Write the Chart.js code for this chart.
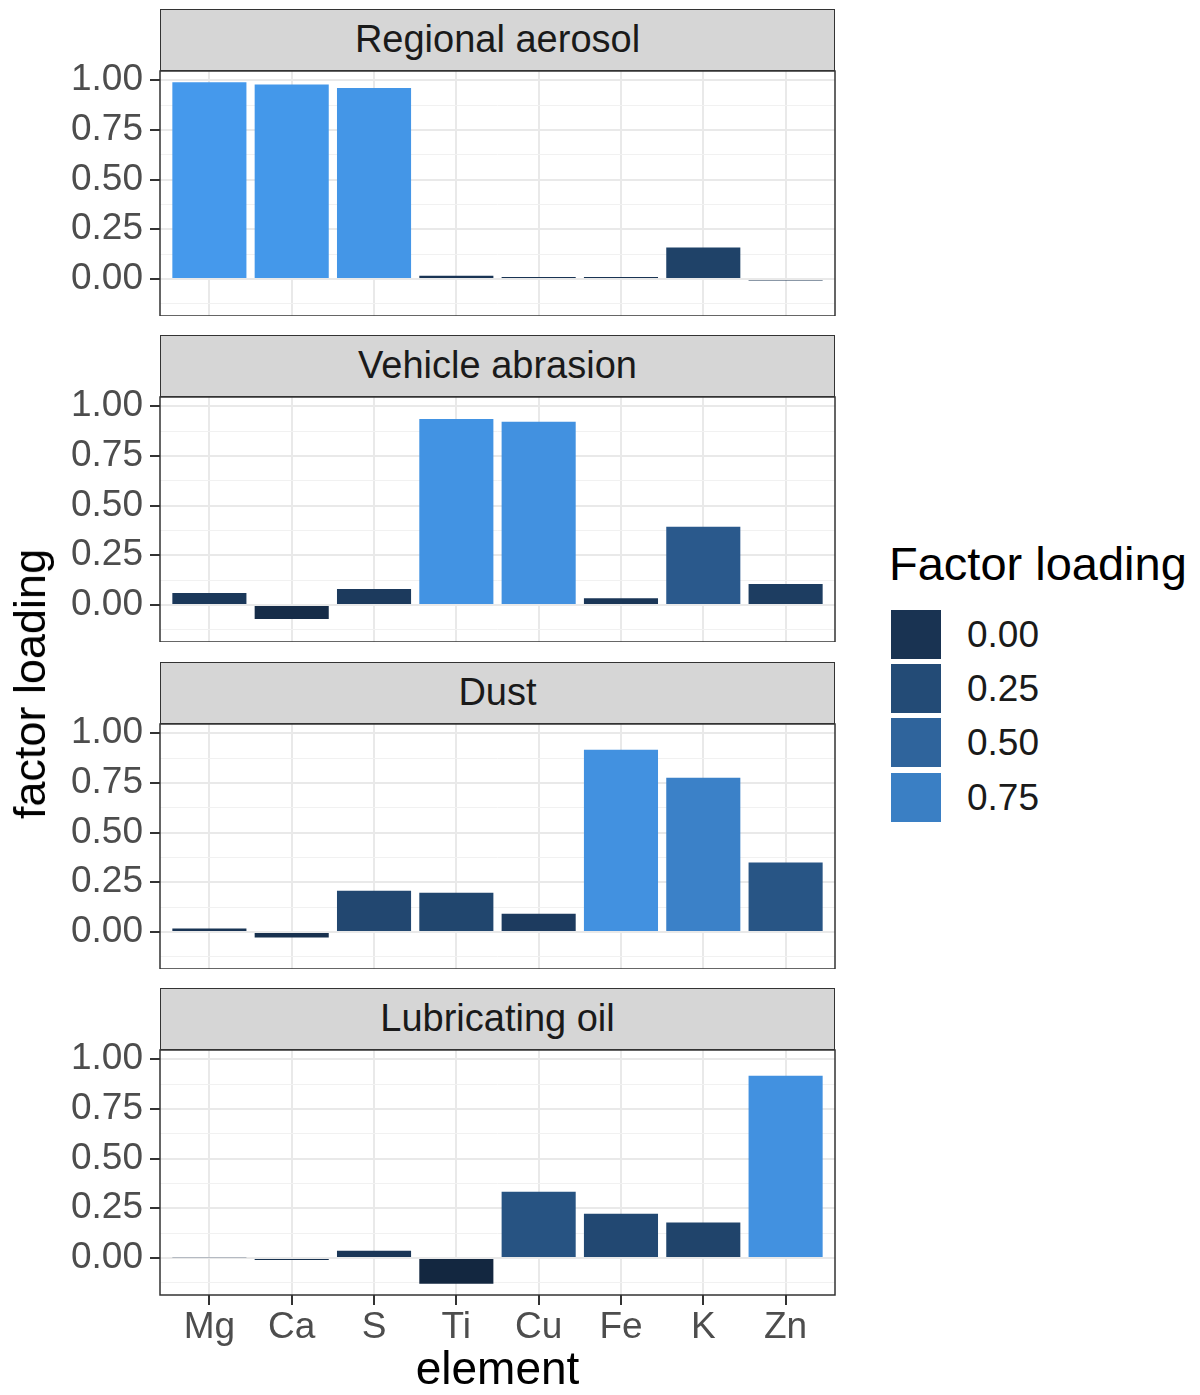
<!DOCTYPE html>
<html>
<head>
<meta charset="utf-8">
<script src="https://cdn.jsdelivr.net/npm/chart.js@4.4.0/dist/chart.umd.min.js"></script>
<style>
  body { margin: 0; background: #fff; font-family: "Liberation Sans", Arial, sans-serif; }
  #wrap { position: relative; width: 1200px; height: 1395px; overflow: hidden; background: #fff; }
  .strip { position: absolute; left: 160px; width: 675px; height: 62px; background: #D6D6D6;
           border: 1.5px solid #333; box-sizing: border-box; text-align: center;
           font-size: 38px; line-height: 59px; color: #1A1A1A; white-space: nowrap; }
  canvas { position: absolute; left: 0; }
  #ytitle { position: absolute; left: 30px; top: 684px; transform: translate(-50%, -50%) rotate(-90deg);
            font-size: 45px; color: #000; white-space: nowrap; }
  #legtitle { position: absolute; left: 889px; top: 541px; font-size: 47px; line-height: 46px; color: #000; white-space: nowrap; }
  .key { position: absolute; left: 891px; width: 50px; height: 49px; }
  .klab { position: absolute; left: 967px; font-size: 37px; line-height: 40px; color: #1A1A1A; }
</style>
</head>
<body>
<div id="wrap"></div>
<script>
// ---------------- data ----------------
const elements = ['Mg', 'Ca', 'S', 'Ti', 'Cu', 'Fe', 'K', 'Zn'];
const factors = ['Regional aerosol', 'Vehicle abrasion', 'Dust', 'Lubricating oil'];
const regionalAerosol = [0.990, 0.978, 0.961, 0.017, 0.010, 0.010, 0.159, -0.008];
const vehicleAbrasion = [0.060, -0.070, 0.080, 0.936, 0.921, 0.034, 0.394, 0.106];
const dust            = [0.018, -0.028, 0.207, 0.197, 0.092, 0.916, 0.776, 0.350];
const lubricatingOil  = [0.004, -0.010, 0.037, -0.130, 0.333, 0.223, 0.178, 0.917];
const yTickValues = [0, 0.25, 0.5, 0.75, 1.0];
const legendBreaks = [0, 0.25, 0.5, 0.75];
const lowColour = '#132740', highColour = '#4599EC';

const seriesList = [regionalAerosol, vehicleAbrasion, dust, lubricatingOil];

// ---------------- colour scale (continuous, Lab interpolation) ----------------
const allVals = seriesList.flat();
const vMin = Math.min(...allVals), vMax = Math.max(...allVals);
function hexToRgb(h) { return [1, 3, 5].map(i => parseInt(h.substr(i, 2), 16) / 255); }
const lin = c => c <= 0.04045 ? c / 12.92 : Math.pow((c + 0.055) / 1.055, 2.4);
const gam = c => c <= 0.0031308 ? 12.92 * c : 1.055 * Math.pow(c, 1 / 2.4) - 0.055;
function rgb2lab(rgb) {
  const [r, g, b] = rgb.map(lin);
  const x = (0.4124 * r + 0.3576 * g + 0.1805 * b) / 0.95047;
  const y = (0.2126 * r + 0.7152 * g + 0.0722 * b);
  const z = (0.0193 * r + 0.1192 * g + 0.9505 * b) / 1.08883;
  const f = t => t > 0.008856 ? Math.cbrt(t) : 7.787 * t + 16 / 116;
  const fx = f(x), fy = f(y), fz = f(z);
  return [116 * fy - 16, 500 * (fx - fy), 200 * (fy - fz)];
}
function lab2rgb(lab) {
  const fy = (lab[0] + 16) / 116, fx = fy + lab[1] / 500, fz = fy - lab[2] / 200;
  const fi = t => t * t * t > 0.008856 ? t * t * t : (t - 16 / 116) / 7.787;
  const x = fi(fx) * 0.95047, y = fi(fy), z = fi(fz) * 1.08883;
  const r = 3.2406 * x - 1.5372 * y - 0.4986 * z;
  const g = -0.9689 * x + 1.8758 * y + 0.0415 * z;
  const b = 0.0557 * x - 0.2040 * y + 1.0570 * z;
  return [r, g, b].map(c => Math.round(Math.min(1, Math.max(0, gam(c))) * 255));
}
const labLo = rgb2lab(hexToRgb(lowColour)), labHi = rgb2lab(hexToRgb(highColour));
function fillFor(v) {
  const t = Math.min(1, Math.max(0, (v - vMin) / (vMax - vMin)));
  const lab = labLo.map((c, i) => c + (labHi[i] - c) * t);
  const [r, g, b] = lab2rgb(lab);
  return `rgb(${r},${g},${b})`;
}

// ---------------- layout ----------------
const FONT = '"Liberation Sans", Arial, sans-serif';
const stripTops = [9, 335, 662, 988];
const stripH = 62;
const plotH = 245;
const padTop = 22;
const xAxisH = 99;
const expand = 0.05 * (vMax - vMin);
const yMin = vMin - expand, yMax = vMax + expand;
const gridVals = [];
for (let v = -0.125; v <= 1.0001; v += 0.125) gridVals.push(Math.round(v * 1000) / 1000);
const isMajor = v => yTickValues.some(t => Math.abs(t - v) < 1e-6);

const borderPlugin = {
  id: 'panelBorder',
  afterDraw(chart) {
    const { ctx, chartArea: a } = chart;
    ctx.save();
    ctx.strokeStyle = '#333333';
    ctx.lineWidth = 1.5;
    ctx.strokeRect(a.left, a.top, a.right - a.left, a.bottom - a.top);
    ctx.restore();
  }
};

const wrap = document.getElementById('wrap');

factors.forEach((name, p) => {
  const strip = document.createElement('div');
  strip.className = 'strip';
  strip.style.top = stripTops[p] + 'px';
  strip.textContent = name;
  wrap.appendChild(strip);

  const isLast = p === factors.length - 1;
  const plotTop = stripTops[p] + stripH;
  const cv = document.createElement('canvas');
  const h = padTop + plotH + (isLast ? xAxisH : 0);
  cv.width = 850; cv.height = h;
  cv.style.width = '850px'; cv.style.height = h + 'px';
  cv.style.top = (plotTop - padTop) + 'px';
  wrap.appendChild(cv);

  const vals = seriesList[p];
  new Chart(cv, {
    type: 'bar',
    data: {
      datasets: [{
        data: vals.map((v, i) => ({ x: i + 1, y: v })),
        backgroundColor: vals.map(fillFor),
        borderWidth: 0,
        barPercentage: 0.9,
        categoryPercentage: 1.0
      }]
    },
    options: {
      responsive: false,
      animation: false,
      devicePixelRatio: 1,
      layout: { padding: { top: padTop, right: 15, left: 0, bottom: 0 } },
      plugins: { legend: { display: false }, tooltip: { enabled: false } },
      scales: {
        x: {
          type: 'linear', min: 0.4, max: 8.6, offset: false,
          afterBuildTicks: ax => { ax.ticks = elements.map((e, i) => ({ value: i + 1 })); },
          afterFit: ax => {
            ax.height = isLast ? xAxisH : 0;
            ax.paddingLeft = 0; ax.paddingRight = 0; ax.paddingTop = 0; ax.paddingBottom = 0;
          },
          ticks: {
            display: isLast, autoSkip: false, maxRotation: 0, padding: 1,
            callback: v => elements[Math.round(v) - 1],
            font: { size: 37, family: FONT }, color: '#4D4D4D'
          },
          grid: { offset: false, color: '#E9E9E9', lineWidth: 2, tickColor: '#333333',
                  tickLength: 10, drawTicks: isLast },
          border: { display: false },
          title: { display: isLast, text: 'element', color: '#000',
                   font: { size: 46, family: FONT, lineHeight: 1.0 }, padding: { top: 0, bottom: 0 } }
        },
        y: {
          min: yMin, max: yMax,
          afterBuildTicks: ax => { ax.ticks = gridVals.map(v => ({ value: v })); },
          afterFit: ax => {
            ax.width = 160;
            ax.paddingTop = 0; ax.paddingBottom = 0; ax.paddingLeft = 0; ax.paddingRight = 0;
          },
          ticks: {
            autoSkip: false, padding: 7,
            callback: v => isMajor(v) ? v.toFixed(2) : '',
            font: { size: 37, family: FONT }, color: '#4D4D4D'
          },
          grid: {
            color: c => isMajor(c.tick.value) ? '#E9E9E9' : '#F1F1F1',
            lineWidth: c => isMajor(c.tick.value) ? 2 : 1,
            tickColor: c => isMajor(c.tick.value) ? '#333333' : 'rgba(0,0,0,0)',
            tickLength: 10
          },
          border: { display: false }
        }
      }
    },
    plugins: [borderPlugin]
  });
});

// y-axis title
const yt = document.createElement('div');
yt.id = 'ytitle'; yt.textContent = 'factor loading';
wrap.appendChild(yt);

// legend
const lt = document.createElement('div');
lt.id = 'legtitle'; lt.textContent = 'Factor loading';
wrap.appendChild(lt);
const keyTops = [610, 664, 718, 773];
legendBreaks.forEach((b, i) => {
  const k = document.createElement('div');
  k.className = 'key';
  k.style.top = keyTops[i] + 'px';
  k.style.background = fillFor(b);
  wrap.appendChild(k);
  const l = document.createElement('div');
  l.className = 'klab';
  l.style.top = (keyTops[i] + 25 - 20) + 'px';
  l.textContent = b.toFixed(2);
  wrap.appendChild(l);
});
</script>
</body>
</html>
